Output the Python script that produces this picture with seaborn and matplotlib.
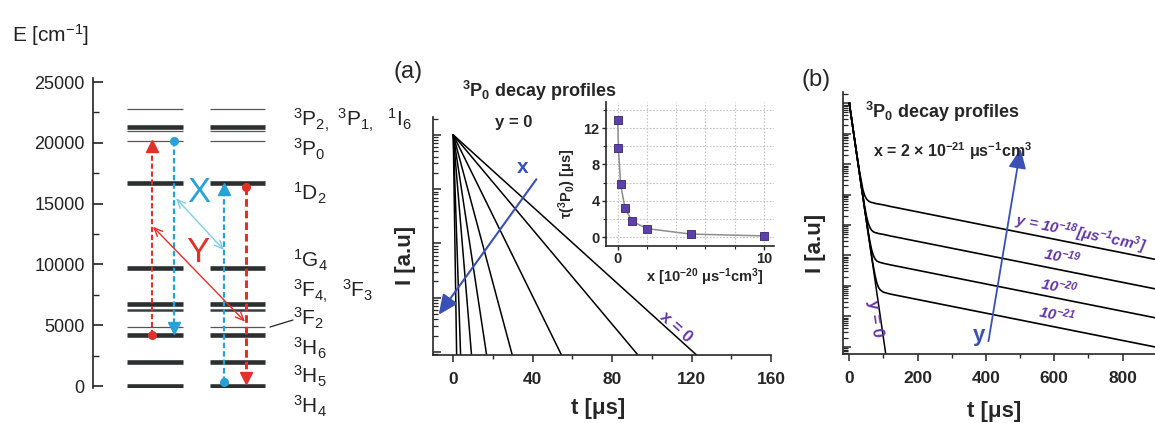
import numpy as np
import pandas as pd
import matplotlib
matplotlib.use('Agg')
import matplotlib.pyplot as plt
import seaborn as sns
from matplotlib.ticker import MultipleLocator, LogLocator, NullFormatter, FixedLocator

# ---- energy level scheme (cm^-1) ----
levels_thick = [0, 2000, 4220, 6760, 9680, 16720, 21320]
levels_mid = [6250]
levels_thin = [4880, 20170, 21000, 22780]
level_labels = [r'$^3$P$_{2,}$ $^3$P$_{1,}$  $^1$I$_6$', r'$^3$P$_0$', r'$^1$D$_2$',
                r'$^1$G$_4$', r'$^3$F$_{4,}$  $^3$F$_3$', r'$^3$F$_2$',
                r'$^3$H$_6$', r'$^3$H$_5$', r'$^3$H$_4$']
e_ticks = [0, 5000, 10000, 15000, 20000, 25000]

# ---- (a) 3P0 lifetime vs x (inset) and decay profiles for y = 0 ----
tau_x = [0, 0.05, 0.2, 0.5, 1, 2, 5, 10]
tau_us = [12.9, 9.8, 5.8, 3.2, 1.75, 0.95, 0.35, 0.15]
# time where each profile reaches the bottom of the axis
t_end_a = [122.5, 93.0, 54.5, 29.7, 16.8, 9.2, 3.7, 1.7]
I_floor_a = 10 ** -4.055

# ---- (b) decay profiles for x = 2e-21, several y (log10 of intensity) ----
t_b = [0, 20, 30, 40, 45, 50, 55, 60, 65, 70, 75, 80, 85, 90, 100, 120, 900]
logI_y18 = [0.00, -1.53, -2.26, -2.85, -3.03, -3.14, -3.20, -3.24, -3.26, -3.27, -3.29, -3.30, -3.31, -3.32, -3.34, -3.39, -5.14]
logI_y19 = [0.00, -1.55, -2.31, -3.06, -3.40, -3.70, -3.93, -4.08, -4.17, -4.22, -4.25, -4.26, -4.28, -4.29, -4.31, -4.36, -6.11]
logI_y20 = [0.00, -1.55, -2.32, -3.09, -3.47, -3.84, -4.20, -4.53, -4.80, -4.99, -5.11, -5.18, -5.21, -5.23, -5.26, -5.31, -7.06]
logI_y21 = [0.00, -1.55, -2.32, -3.09, -3.48, -3.86, -4.25, -4.62, -4.99, -5.34, -5.64, -5.88, -6.04, -6.13, -6.21, -6.27, -8.02]
t_y0 = [0, 110]
logI_y0 = [0.0, -8.50]

sns.set_theme(style='ticks')
plt.rcParams['font.family'] = ['Liberation Sans Narrow', 'Liberation Sans', 'DejaVu Sans']
plt.rcParams['mathtext.default'] = 'regular'
plt.rcParams['axes.linewidth'] = 1.2

W, H = 1155, 423
fig = plt.figure(figsize=(11.55, 4.23), dpi=100)
REG = ['Liberation Sans', 'DejaVu Sans']
PURPLE = '#6236a8'
BLUE = '#3a50b4'
RED = '#e2302a'
CYAN = '#27a2d8'


def ftext(x, y, s, **kw):
    fig.text(x / W, 1 - y / H, s, **kw)


# ================= energy level panel =================
ax0 = fig.add_axes([93 / W, 1 - 388 / H, 300 / W, 310 / H])
ax0.set_xlim(0, 300)
ax0.set_ylim(-164, 25330)
ax0.patch.set_alpha(0)
for s in ['top', 'right', 'bottom']:
    ax0.spines[s].set_visible(False)
ax0.spines['left'].set_color('#222222')
ax0.set_xticks([])
ax0.set_yticks(e_ticks)
ax0.yaxis.set_minor_locator(MultipleLocator(2500))
ax0.tick_params(axis='y', which='major', direction='in', length=7, width=1.2, pad=6,
                labelsize=13, colors='#222222')
ax0.tick_params(axis='y', which='minor', direction='in', length=4, width=1.0)
for lab in ax0.get_yticklabels():
    lab.set_family(REG)

for x0, x1 in [(34, 90), (117, 172)]:
    ax0.hlines(levels_thick, x0, x1, color='#2c2f2f', lw=3.3)
    ax0.hlines(levels_mid, x0, x1, color='#3a3d3d', lw=1.8)
    ax0.hlines(levels_thin, x0, x1, color='#555555', lw=0.9)


def dashed_arrow(x, e0, e1, color, lw):
    up = e1 > e0
    ax0.plot([x, x], [e0, e1 - (350 if up else -350)], color=color, lw=lw, ls=(0, (2.5, 1.3)))
    ax0.plot([x], [e0], 'o', color=color, ms=5.5)
    ax0.plot([x], [e1 - (420 if up else -420)], '^' if up else 'v', color=color, ms=8.5)


dashed_arrow(58.7, 4220, 20170, RED, 1.5)
dashed_arrow(81, 20170, 4360, CYAN, 1.6)
dashed_arrow(131, 300, 16600, CYAN, 1.6)
dashed_arrow(152.7, 16400, 200, RED, 2.2)

ax0.annotate('', xy=(131, 11180), xytext=(83, 15430),
             arrowprops=dict(arrowstyle='<->,head_length=0.5,head_width=0.22', color='#7fcde3', lw=1.0,
                             shrinkA=0, shrinkB=0))
ax0.annotate('', xy=(152, 5290), xytext=(60, 13100),
             arrowprops=dict(arrowstyle='<->,head_length=0.5,head_width=0.22', color=RED, lw=1.0,
                             shrinkA=0, shrinkB=0))
ax0.text(106, 15950, 'X', color=CYAN, fontsize=25, ha='center', va='center', family=REG)
ax0.text(105, 10940, 'Y', color=RED, fontsize=25, ha='center', va='center', family=REG)
ax0.plot([177, 200], [4850, 5430], color='#222222', lw=0.9, clip_on=False)

label_base = [126.7, 156.7, 200, 267, 297, 325, 355, 383, 413]
for lab, yb in zip(level_labels, label_base):
    ftext(293, yb, lab, fontsize=15, va='baseline', ha='left', family=REG, color='#222222')
ftext(12, 42, r'E [cm$^{-1}$]', fontsize=15, va='baseline', ha='left', family=REG, color='#222222')

# ================= panel (a) =================
axa = fig.add_axes([433 / W, 1 - 355 / H, 338 / W, 238 / H])
axa.set_yscale('log')
for tend in t_end_a:
    sns.lineplot(x=[0, tend], y=[1.0, I_floor_a], ax=axa, color='black', lw=1.1)
axa.set_xlim(-10.2, 160)
axa.set_ylim(I_floor_a, 10 ** 0.33)
axa.set_xlabel('')
axa.set_ylabel('')
sns.despine(ax=axa)
axa.set_xticks([0, 40, 80, 120, 160])
axa.xaxis.set_minor_locator(MultipleLocator(20))
axa.yaxis.set_major_locator(LogLocator(base=10, numticks=20))
axa.yaxis.set_minor_locator(LogLocator(base=10, subs=np.arange(2, 10), numticks=20))
axa.yaxis.set_major_formatter(NullFormatter())
axa.yaxis.set_minor_formatter(NullFormatter())
axa.tick_params(axis='x', which='major', direction='out', length=5, width=1.1, pad=7, labelsize=12.5)
axa.tick_params(axis='x', which='minor', direction='out', length=3, width=1.0)
axa.tick_params(axis='y', which='major', direction='in', length=6, width=1.1)
axa.tick_params(axis='y', which='minor', direction='in', length=3.5, width=0.9)
for lab in axa.get_xticklabels():
    lab.set_fontweight('bold')

ftext(408, 72, '(a)', fontsize=17, ha='center', va='center')
ftext(462, 97, r'$^3$P$_0$ decay profiles', fontsize=13, fontweight='bold', va='baseline')
ftext(514, 122, 'y = 0', fontsize=12, fontweight='bold', ha='center', va='center')
ftext(405, 255, 'I [a.u]', fontsize=16, fontweight='bold', rotation=90, ha='center', va='center')
ftext(598, 408, 't [μs]', fontsize=16, fontweight='bold', ha='center', va='center')
axa.annotate('', xy=(437 / W, 1 - 317 / H), xytext=(538 / W, 1 - 177 / H), xycoords='figure fraction',
             textcoords='figure fraction',
             arrowprops=dict(arrowstyle='-|>,head_length=1.0,head_width=0.45', color=BLUE, lw=1.5))
ftext(523, 167, 'x', fontsize=15, fontweight='bold', color=BLUE, ha='center', va='center')
ftext(676, 327, 'x = 0', fontsize=12, fontweight='bold', color=PURPLE, rotation=-42,
      ha='center', va='center')

# ---- inset ----
axi = fig.add_axes([606 / W, 1 - 246 / H, 168 / W, 144.3 / H])
df_i = pd.DataFrame({'x': tau_x, 'tau': tau_us})
sns.lineplot(data=df_i, x='x', y='tau', ax=axi, color='#8c8c8c', lw=1.1)
sns.scatterplot(data=df_i, x='x', y='tau', ax=axi, marker='s', s=32, color='#5d40aa',
                edgecolor='#35256a', linewidth=0.6, zorder=3)
axi.set_xlim(-0.8, 10.7)
axi.set_ylim(-0.96, 14.9)
sns.despine(ax=axi)
axi.set_xticks([0, 10])
axi.xaxis.set_minor_locator(FixedLocator([2, 4, 6, 8]))
axi.set_yticks([0, 4, 8, 12])
axi.yaxis.set_minor_locator(FixedLocator([2, 6, 10, 14]))
axi.grid(True, which='both', ls=(0, (1.5, 1.5)), color='#c4c4c4', lw=0.8)
axi.tick_params(which='major', direction='out', length=3, width=1.0, pad=1.5, labelsize=10.5)
axi.tick_params(which='minor', direction='out', length=2, width=0.8)
for lab in axi.get_xticklabels() + axi.get_yticklabels():
    lab.set_fontweight('bold')
axi.set_xlabel('')
axi.set_ylabel('')
ftext(705, 277, r'x [10$^{-20}$ μs$^{-1}$cm$^3$]', fontsize=10.5, fontweight='bold',
      ha='center', va='center')
ftext(567, 184, r'$\tau$($^3$P$_0$) [μs]', fontsize=10.5, fontweight='bold', rotation=90,
      ha='center', va='center')

# ================= panel (b) =================
axb = fig.add_axes([843.3 / W, 1 - 354 / H, 313.5 / W, 262.3 / H])
axb.set_yscale('log')
df_b = pd.concat([
    pd.DataFrame({'t': t_b, 'logI': v, 'curve': name})
    for name, v in [('y18', logI_y18), ('y19', logI_y19), ('y20', logI_y20), ('y21', logI_y21)]
])
df_b['I'] = 10 ** df_b['logI']
sns.lineplot(data=df_b, x='t', y='I', units='curve', estimator=None, color='black', lw=1.2, ax=axb)
sns.lineplot(x=t_y0, y=10 ** np.array(logI_y0), color='black', lw=1.1, ax=axb)
axb.set_xlim(-17.6, 900)
axb.set_ylim(10 ** -8.24, 10 ** 0.38)
axb.set_xlabel('')
axb.set_ylabel('')
sns.despine(ax=axb)
axb.set_xticks([0, 200, 400, 600, 800])
axb.xaxis.set_minor_locator(MultipleLocator(100))
axb.yaxis.set_major_locator(LogLocator(base=10, numticks=20))
axb.yaxis.set_minor_locator(LogLocator(base=10, subs=np.arange(2, 10), numticks=20))
axb.yaxis.set_major_formatter(NullFormatter())
axb.yaxis.set_minor_formatter(NullFormatter())
axb.tick_params(axis='x', which='major', direction='out', length=5, width=1.1, pad=7, labelsize=12.5)
axb.tick_params(axis='x', which='minor', direction='out', length=3, width=1.0)
axb.tick_params(axis='y', which='major', direction='in', length=6, width=1.1)
axb.tick_params(axis='y', which='minor', direction='in', length=3.5, width=0.9)
for lab in axb.get_xticklabels():
    lab.set_fontweight('bold')

ftext(816, 80, '(b)', fontsize=17, ha='center', va='center')
ftext(865, 118, r'$^3$P$_0$ decay profiles', fontsize=13, fontweight='bold', va='baseline')
ftext(873, 157, r'x = 2 $\times$ 10$^{-21}$ μs$^{-1}$cm$^3$', fontsize=11.5, fontweight='bold',
      va='baseline')
ftext(815, 243, 'I [a.u]', fontsize=16, fontweight='bold', rotation=90, ha='center', va='center')
ftext(994, 411, 't [μs]', fontsize=16, fontweight='bold', ha='center', va='center')
axb.annotate('', xy=(1021 / W, 1 - 146 / H), xytext=(988 / W, 1 - 344 / H), xycoords='figure fraction',
             textcoords='figure fraction',
             arrowprops=dict(arrowstyle='-|>,head_length=1.0,head_width=0.45', color=BLUE, lw=1.3))
ftext(979, 335, 'y', fontsize=16, fontweight='bold', color=BLUE, ha='center', va='center')
ftext(875, 318, 'y = 0', fontsize=12, fontweight='bold', color=PURPLE, rotation=-82,
      ha='center', va='center')
ylabs = [(1081, 234, r'y = 10$^{-18}$[μs$^{-1}$cm$^3$]'), (1062, 257, r'10$^{-19}$'),
         (1059, 287, r'10$^{-20}$'), (1057, 315, r'10$^{-21}$')]
for x, y, s in ylabs:
    ftext(x, y, s, fontsize=11, fontweight='bold', fontstyle='italic', color=PURPLE,
          rotation=-11.5, ha='center', va='center')

fig.savefig('out.png', dpi=100)
